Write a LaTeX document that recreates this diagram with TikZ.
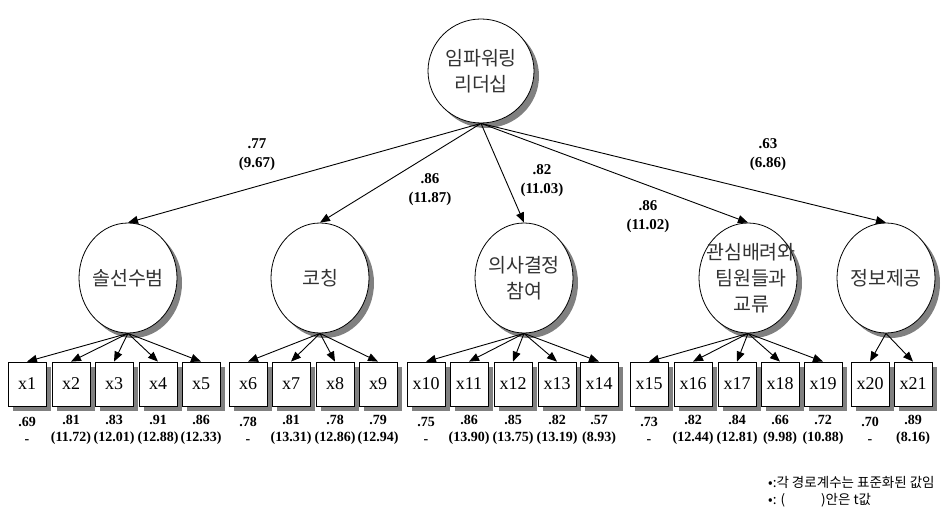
\documentclass[tikz,border=0pt]{standalone}
\usepackage{fontspec}
\setmainfont{Liberation Serif}
\newfontfamily\krfont{Noto Sans CJK KR}
\usetikzlibrary{arrows.meta,shapes.geometric,shadows}

\begin{document}
\begin{tikzpicture}[x=1pt,y=-1pt,
  shade box/.style={drop shadow={shadow xshift=5pt,shadow yshift=-5pt,fill=black!50,opacity=1}},
  lat/.style={ellipse,draw,fill=white,line width=0.8pt,minimum width=98pt,minimum height=110pt,inner sep=0pt,shade box},
  lattext/.style={font=\krfont\fontsize{19.5}{26}\selectfont,text=black!80,align=center},
  obs/.style={rectangle,draw,fill=white,line width=0.8pt,minimum width=38pt,minimum height=44pt,inner sep=0pt,
    font=\fontsize{18}{18}\selectfont,shade box},
  arr/.style={line width=0.9pt,-{Triangle[length=10pt,width=8pt]}},
  coef/.style={font=\bfseries\fontsize{15}{19}\selectfont,align=center,inner sep=0pt},
  load/.style={font=\bfseries\fontsize{14}{17}\selectfont,align=center,inner sep=0pt},
  note/.style={font=\krfont\fontsize{13.5}{15}\selectfont,anchor=west,inner sep=0pt}]
\useasboundingbox (0,0) rectangle (943,516);

% latent variables
\node[lat,minimum width=106pt,minimum height=104pt,label={[lattext]center:임파워링\\리더십}] (lead) at (481,71) {};
\node[lat,label={[lattext]center:솔선수범}] (c1) at (128,278) {};
\node[lat,label={[lattext]center:코칭}] (c2) at (320,278) {};
\node[lat,label={[lattext]center:의사결정\\참여}] (c3) at (524,278) {};
\node[lat,label={[lattext,xshift=3pt]center:관심배려와\\팀원들과\\교류}] (c4) at (748,278) {};
\node[lat,label={[lattext]center:정보제공}] (c5) at (886,278) {};

% observed variables
\foreach \i/\x in {1/27,2/71,3/114,4/158,5/201,6/248,7/291,8/335,9/378,10/426,11/469,
  12/513,13/557,14/599,15/649,16/693,17/737,18/780,19/823,20/870,21/913}
  \node[obs] (x\i) at (\x,384) {x\i};

% paths
\foreach \c in {c1,c2,c3,c4,c5}
  \draw[arr] (lead.south) -- (\c.north);
\foreach \c/\l in {c1/{1,2,3,4,5},c2/{6,7,8,9},c3/{10,11,12,13,14},c4/{15,16,17,18,19},c5/{20,21}}
  \foreach \i in \l
    \draw[arr] (\c.south) -- (x\i.north);

% path coefficients
\node[coef] (p1) at (257,155) {.77\\(9.67)};
\node[coef] (p2) at (430,190) {.86\\(11.87)};
\node[coef] (p3) at (542,181) {.82\\(11.03)};
\node[coef] (p4) at (648,217) {.86\\(11.02)};
\node[coef] (p5) at (768,155) {.63\\(6.86)};

% loadings
\foreach \i/\x/\a/\b in {1/27/.69/-,2/71/.81/(11.72),3/114/.83/(12.01),4/158/.91/(12.88),
  5/201/.86/(12.33),6/248/.78/-,7/291/.81/(13.31),8/335/.78/(12.86),9/378/.79/(12.94),
  10/426/.75/-,11/469/.86/(13.90),12/513/.85/(13.75),13/557/.82/(13.19),14/599/.57/(8.93),
  15/649/.73/-,16/693/.82/(12.44),17/737/.84/(12.81),18/780/.66/(9.98),19/823/.72/(10.88),
  20/870/.70/-,21/913/.89/(8.16)}
  \node[load] (l\i) at (\x,430) {\a\\\b};

% notes
\node[note] (n1) at (768,482) {•:각 경로계수는 표준화된 값임};
\node[note] (n2) at (768,500) {•: (\hspace{36pt})안은 t값};
\end{tikzpicture}
\end{document}
